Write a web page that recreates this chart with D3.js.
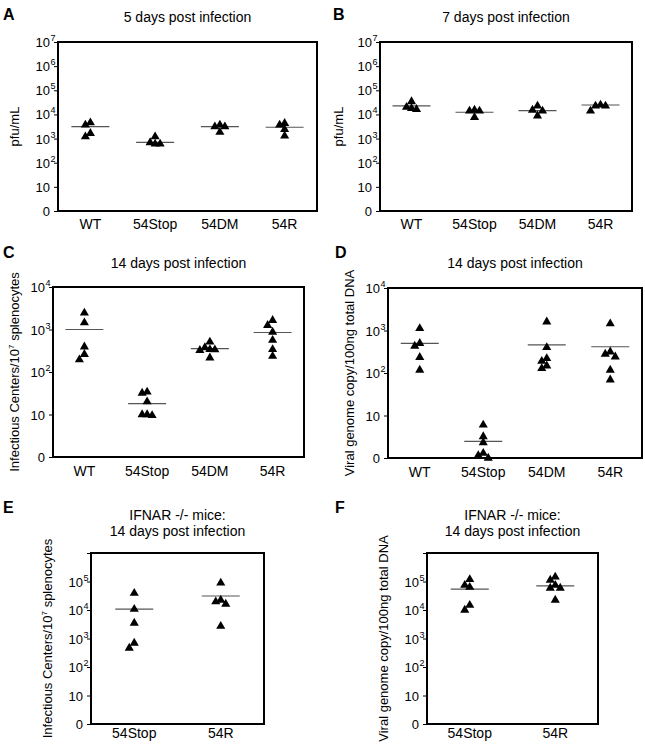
<!DOCTYPE html>
<html>
<head>
<meta charset="utf-8">
<script src="https://cdn.jsdelivr.net/npm/d3@7/dist/d3.min.js"></script>
<style>
body { margin: 0; background: #fff; }
svg { display: block; font-family: "Liberation Sans", Arial, sans-serif; }
</style>
</head>
<body>
<svg id="fig" width="645" height="747"></svg>
<script>
// groups on the x axis
var groups4 = ["WT", "54Stop", "54DM", "54R"];
var groups2 = ["54Stop", "54R"];

// log tick values (0 stands for 10^0)
var ticks7 = [1, 10, 1e2, 1e3, 1e4, 1e5, 1e6, 1e7];
var ticks4 = [1, 10, 1e2, 1e3, 1e4];
var ticks6 = [1, 10, 1e2, 1e3, 1e4, 1e5, 1e6];

// A: 5 days, pfu/mL
var valuesA = [[4570, 3660, 1660, 1200], [1200, 680, 600, 600], [3660, 3100, 3100, 1830], [4300, 3660, 2400, 1290]];
var meansA = [3100, 700, 3100, 2950];
// B: 7 days, pfu/mL
var valuesB = [[34000, 20000, 18000, 16300], [15200, 13900, 13900, 7600], [22400, 15200, 13900, 8700], [24600, 22400, 22400, 13900]];
var meansB = [22400, 12300, 14400, 24600];
// C: 14 days, infectious centers
var valuesC = [[2450, 1450, 390, 260, 195], [34, 32, 20, 10, 10, 9.5], [510, 375, 340, 335, 325, 215], [1650, 1250, 870, 560, 340, 235]];
var meansC = [1000, 18, 355, 850];
// D: 14 days, viral genome copies
var valuesD = [[1120, 500, 430, 233, 117], [6, 3.2, 2.3, 1.3, 1.15, 1], [1600, 400, 220, 190, 148, 128], [1450, 316, 280, 240, 117, 69]];
var meansD = [500, 2.45, 460, 415];
// E: IFNAR -/-, infectious centers
var valuesE = [[39000, 10700, 3460, 690, 460], [89000, 22300, 19500, 16200, 2700]];
var meansE = [10700, 31000];
// F: IFNAR -/-, viral genome copies
var valuesF = [[118000, 74000, 63000, 14800, 10000], [145000, 112000, 74000, 59000, 59000, 22400]];
var meansF = [54000, 70000];

var icLabel = [["Infectious Centers/10", 0], ["7", 1], [" splenocytes", 0]];
var vgLabel = [["Viral genome copy/100ng total DNA", 0]];
var pfuLabel = [["pfu/mL", 0]];

var panels = [
  { letter: "A", lx: 3, ly: 20, title: ["5 days post infection"], ty: 22, ylab: pfuLabel, ylx: 19,
    box: [58, 317, 42, 211], ticks: ticks7, labelled: ticks7, groups: groups4, values: valuesA, means: meansA, gap: 18 },
  { letter: "B", lx: 333, ly: 20, title: ["7 days post infection"], ty: 22, ylab: pfuLabel, ylx: 343,
    box: [380, 632, 42, 211], ticks: ticks7, labelled: ticks7, groups: groups4, values: valuesB, means: meansB, gap: 18 },
  { letter: "C", lx: 3, ly: 258, title: ["14 days post infection"], ty: 268, ylab: icLabel, ylx: 19,
    box: [53, 304, 287, 457], ticks: ticks4, labelled: ticks4, groups: groups4, values: valuesC, means: meansC, gap: 19 },
  { letter: "D", lx: 335, ly: 258, title: ["14 days post infection"], ty: 268, ylab: vgLabel, ylx: 354,
    box: [388, 642, 288, 458], ticks: ticks4, labelled: ticks4, groups: groups4, values: valuesD, means: meansD, gap: 19 },
  { letter: "E", lx: 3, ly: 513, title: ["IFNAR -/- mice:", "14 days post infection"], ty: 520, ylab: icLabel, ylx: 52,
    box: [91, 264, 553, 724], ticks: ticks6, labelled: ticks6.slice(0, 6), groups: groups2, values: valuesE, means: meansE, gap: 14 },
  { letter: "F", lx: 335, ly: 513, title: ["IFNAR -/- mice:", "14 days post infection"], ty: 520, ylab: vgLabel, ylx: 388,
    box: [427, 598, 553, 724], ticks: ticks6, labelled: ticks6.slice(0, 6), groups: groups2, values: valuesF, means: meansF, gap: 14 }
];

var svg = d3.select("#fig");
var tri = d3.symbol().type(d3.symbolTriangle).size(36);

// spread points of one group sideways so the triangles do not sit on top of each other
function dodge(vals, y, cx) {
  var placed = [];
  var offs = [0, -5, 5, -10, 10, -15, 15, -20, 20];
  vals.forEach(function(v) {
    var py = y(v);
    for (var i = 0; i < offs.length; i++) {
      var px = cx + offs[i];
      var hit = placed.some(function(p) { return Math.abs(p[0] - px) < 5 && Math.abs(p[1] - py) < 6; });
      if (!hit) { placed.push([px, py]); break; }
    }
  });
  return placed;
}

panels.forEach(function(p) {
  var x0 = p.box[0], x1 = p.box[1], y0 = p.box[2], y1 = p.box[3];
  var g = svg.append("g");

  var x = d3.scalePoint().domain(p.groups).range([x0, x1]).padding(0.5);
  var y = d3.scaleLog().domain([1, p.ticks[p.ticks.length - 1]]).range([y1, y0]);

  // panel letter
  g.append("text").attr("x", p.lx).attr("y", p.ly)
    .attr("font-size", 16).attr("font-weight", "bold").text(p.letter);

  // title
  p.title.forEach(function(t, i) {
    g.append("text").attr("x", (x0 + x1) / 2).attr("y", p.ty + i * 16)
      .attr("text-anchor", "middle").attr("font-size", 14).text(t);
  });

  // y axis label
  var yl = g.append("text")
    .attr("transform", "translate(" + p.ylx + "," + ((y0 + y1) / 2) + ") rotate(-90)")
    .attr("text-anchor", "middle").attr("font-size", 13);
  p.ylab.forEach(function(part) {
    var ts = yl.append("tspan").text(part[0]);
    if (part[1]) ts.attr("font-size", 8).attr("dy", -5);
    else if (yl.selectAll("tspan").size() > 1) ts.attr("dy", 5);
  });

  // y ticks
  var axis = d3.axisLeft(y).tickValues(p.ticks).tickSize(4).tickFormat("");
  var ag = g.append("g").attr("transform", "translate(" + x0 + ",0)").call(axis);
  ag.select(".domain").remove();
  ag.selectAll(".tick line").attr("stroke", "#000").attr("stroke-width", 1);

  p.labelled.forEach(function(t) {
    var e = Math.round(Math.log10(t));
    var base = e === 0 ? "0" : "10";
    g.append("text").attr("x", x0 - 8).attr("y", y(t) + 5)
      .attr("text-anchor", "end").attr("font-size", 13).text(base);
    if (e > 1) {
      g.append("text").attr("x", x0 - 7.5).attr("y", y(t) - 1)
        .attr("font-size", 9).text(e);
    }
  });

  // x labels
  g.selectAll(".xl").data(p.groups).enter().append("text")
    .attr("x", function(d) { return x(d); })
    .attr("y", y1 + p.gap)
    .attr("text-anchor", "middle").attr("font-size", 14)
    .text(function(d) { return d; });

  // mean lines
  g.selectAll(".mean").data(p.means).enter().append("line")
    .attr("x1", function(d, i) { return x(p.groups[i]) - 19; })
    .attr("x2", function(d, i) { return x(p.groups[i]) + 19; })
    .attr("y1", function(d) { return y(d); })
    .attr("y2", function(d) { return y(d); })
    .attr("stroke", "#555").attr("stroke-width", 1.2);

  // points
  p.values.forEach(function(vals, i) {
    var pts = dodge(vals, y, x(p.groups[i]));
    g.selectAll(null).data(pts).enter().append("path")
      .attr("d", tri)
      .attr("transform", function(d) { return "translate(" + d[0] + "," + d[1] + ")"; })
      .attr("fill", "#000");
  });

  // frame
  g.append("rect").attr("x", x0).attr("y", y0)
    .attr("width", x1 - x0).attr("height", y1 - y0)
    .attr("fill", "none").attr("stroke", "#000").attr("stroke-width", 2);
});
</script>
</body>
</html>
